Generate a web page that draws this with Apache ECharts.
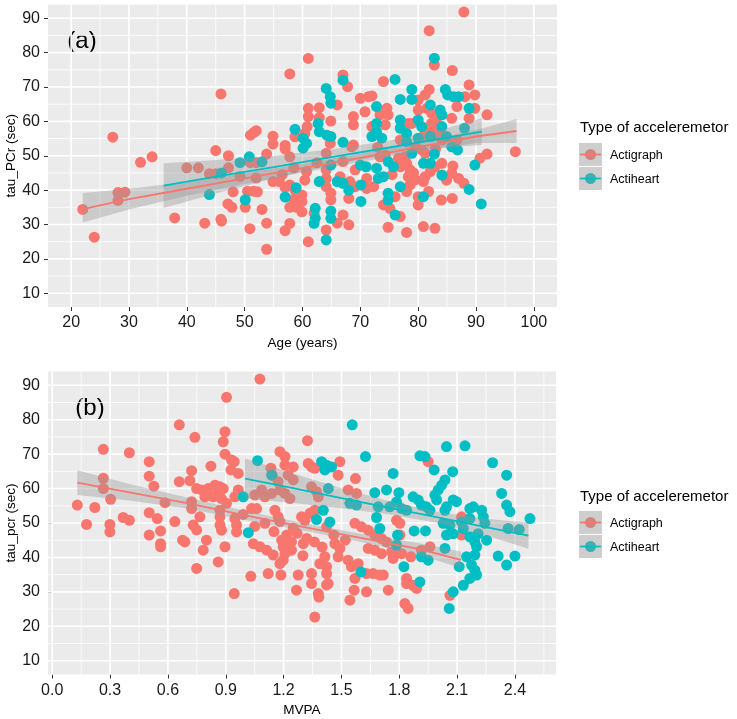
<!DOCTYPE html>
<html><head><meta charset="utf-8">
<script src="https://cdn.jsdelivr.net/npm/echarts@6/dist/echarts.min.js"></script>
<style>html,body{margin:0;padding:0;background:#fff}#c{width:737px;height:719px}</style>
</head><body><div id="c"></div>
<script>
// ---------- DATA ----------
const groupNames = ['Actigraph', 'Actiheart'];
const colRed = '#F8766D', colCyan = '#00BFC4';

// Panel (a): Age vs tau_PCr
const ageActigraph = [[22,34.4],[24,26.3],[27.2,55.4],[28.1,39.3],[28.1,37],[29.3,39.4],[32,48.1],[34,49.7],[37.9,31.9],[40,46.5],[42,46.5],[43.1,30.4],[43.9,44.8],[45,44.8],[45,51.5],[45.9,68],[45.9,31.5],[46,31],[47.2,50],[47.2,46.5],[47.1,36],[47.8,35],[48,39.5],[49.2,44],[50.1,35],[50.5,39.7],[51.5,39.7],[52.2,39.5],[50.9,28.8],[51,48],[51,56],[51.6,56.8],[52,57.3],[52,43.5],[52,48],[53,34.4],[53.8,50.5],[53.8,22.8],[53.8,30.4],[54.9,55.7],[54.9,53.4],[54.9,42.5],[56,42.5],[57,53],[57,52],[57,28.2],[57.8,30.3],[57.8,73.8],[57,40.8],[57.8,49.7],[58.7,55.5],[57.8,35],[59,35],[58.5,37.3],[57.8,41.5],[58.7,40],[59.9,33.7],[59.9,38.6],[59.9,36.7],
[61,78.3],[67,73.5],[67.8,70.1],[66,64.8],[70,66.7],[71.4,67.2],[70.8,62.8],[61,63.8],[61,61.4],[62.9,64],[62.9,61.1],[64.9,60.1],[68.8,61.4],[68.8,59],[60.8,58.5],[60.4,56.5],[64.8,53.6],[68.8,53.1],[61,25],[60.7,45.4],[60.4,42.9],[64.1,50.7],[64.1,45.9],[64.1,43.4],[64.1,41],[64.9,39.1],[64.9,37.2],[62,33.3],[64.1,28.4],[66,30.4],[67,32.8],[68,29.9],[66.5,43.9],[68.2,42.5],[69.1,41],[68,37.6],[71.1,43.4],[71.1,40.5],[69.1,45.9],[67,48.3],[68.5,52.6],
[87.9,91.8],[81.9,86.4],[82.8,76.4],[85.9,74.8],[74,71.6],[72,67.4],[81.9,69.3],[81.2,67.7],[80,66.2],[88.8,70.6],[89.8,67.7],[88.1,67.2],[86.7,64.3],[89.8,63.8],[91.9,61.9],[88.8,60.9],[80,63.3],[81.5,63.8],[82.3,62.4],[83.2,60.9],[82.3,59.4],[81.8,57.5],[80.9,55.6],[85.8,60.9],[78.3,59.4],[78.9,59.4],[74.6,63.8],[73.4,61.9],[74.8,61.9],[74.3,59],[72,58.5],[76.9,54.6],[84.1,54.6],[86.7,54.6],[79.5,52.6],[80.6,51.7],[81.2,50.7],[77.7,49.7],[76.6,49.3],[74.3,50.2],[73.4,49.7],[76.9,46.8],[78,47.8],[78.6,45.9],[78.3,43.9],[78.6,41.5],[78,39.6],[84.1,47.8],[82.9,46.8],[82.1,45.4],[81.2,43.9],[80.9,42.5],[84.9,42.9],[85.8,44.9],[87,43.4],[87.9,42],[90.7,49.3],[91.9,50.5],[72.3,41],[76,38.1],[74,35.7],[75.1,34.7],[76.9,32.3],[74.8,29.2],[78,27.7],[80.9,29.4],[82.9,28.9],[80,38.1],[80,35.7],[81.8,39.6],[84,37.1],[85.9,37.6],[96.8,51.2],
[82.5,58.5],[83.5,57.2],[82.8,56],[79.2,45],[79.5,43],[86,47],[83,52],[62.5,48],[58.5,46.5],[56.5,44.5],[75.5,44.5],[73,52.5]];
const ageActiheart = [[43.9,38.7],[46,45],[49.2,48],[50.1,37.2],[50.8,49.7],[53,48.2],[57,38],[58.7,57.7],[58.9,40.7],
[67,72],[64.1,69.6],[64.8,67.2],[64.9,65.3],[62.7,59.4],[62.9,57],[64.2,56],[64.9,55.6],[60.1,55.1],[60.7,53.6],[60.1,52.2],[67,53.9],[70,47.3],[71,46.8],[62.9,42.5],[64.9,47.3],[62.2,34.7],[62.2,31.8],[62,30.3],[64.1,25.5],[64.9,33.9],[64.9,31.8],[66,42.5],[67,42],[68,40],[70.1,36.7],[70.1,41.5],
[82.8,78.4],[76,72.2],[78.9,69.3],[76.9,66.4],[78.9,66.4],[84.7,69.3],[85.1,67.7],[86.1,67.2],[87,67.2],[88.8,63.8],[83.8,63.3],[84.1,61.9],[82.1,64.8],[84.1,58.5],[80,60.4],[80.6,58.5],[76.9,60.4],[76.9,58],[72.8,64.3],[72.8,59.4],[72.8,57],[72,55.6],[73.7,55.1],[78,56.5],[78,54.1],[80,55.1],[82.1,55.6],[84.9,55.6],[88,58],[86.8,51.7],[85.8,52.6],[78.9,50.7],[74.8,48.3],[75.7,46.8],[72.8,46.4],[73.1,43.4],[74,43.9],[76.9,41],[80.9,47.8],[82.1,47.8],[82.8,50.5],[84.1,44.4],[88.8,40.2],[89.8,47.3],[90.9,36],[74.8,39.1],[74.8,37.1],[76,32.8],[80.9,38.1]];

// smooth fits panel (a)
const ageFitRedX  = [22,30,40,50,60,70,80,90,97];
const ageFitRedY  = [34.5,37.4,40.4,43.4,46.4,49.4,52.5,55.6,57.2];
const ageFitRedLo = [30.6,34.4,38.4,41.8,45.1,48.2,51.2,53.7,53.7];
const ageFitRedHi = [39.2,40.4,42.4,45.0,47.7,50.6,53.8,57.5,60.7];
const ageFitCyX   = [36,45,55,65,75,85,91];
const ageFitCyY   = [41.3,43.9,46.7,49.6,52.4,55.3,57.0];
const ageFitCyLo  = [34.8,39.0,43.4,47.3,50.4,52.5,53.1];
const ageFitCyHi  = [47.8,48.8,50.0,51.9,54.4,58.1,60.9];

// Panel (b): MVPA vs tau_pcr
const mvpaActigraph = [[0.659,78.5],[0.74,74.9],[0.265,71.4],[0.4,70.4],[0.503,67.8],[0.503,63.6],[0.527,60.7],[0.265,63],[0.265,60],[0.303,56.9],[0.723,65.2],[0.659,62],[0.714,62.3],[0.749,60],[0.13,55.2],[0.221,54.5],[0.178,49.6],[0.299,49.6],[0.299,47.4],[0.368,51.6],[0.4,50.8],[0.503,53],[0.545,51.3],[0.562,47.7],[0.503,46.5],[0.562,44],[0.562,43.1],[0.636,50.4],[0.676,45],[0.688,44.5],[0.585,55.9],[0.723,56.2],[0.723,54.2],[0.749,36.8],[0.731,49.4],[0.749,48],
[0.904,86.5],[0.896,76.5],[0.887,73.6],[0.896,70],[0.93,68.3],[0.944,67.8],[0.823,66.5],[0.927,65.4],[0.965,64.4],[1.181,70.7],[1.207,69.3],[1.324,73.9],[1.134,65.9],[1.141,63.9],[1.25,66.3],[1.207,66.8],[1.328,67.3],[1.345,66.3],[1.362,65.9],[1.224,63.9],[1.25,62.5],[1.051,58.1],[1.086,59.6],[1.103,57.6],[1.138,58.6],[1.181,59.6],[1.207,58.6],[1.172,62],[0.965,59.6],[0.947,57.6],[1.233,57.1],[1.345,60.5],[1.371,59.1],[1.38,57.6],[0.775,59.6],[0.809,60],[0.844,61],[0.87,60.5],[0.887,60],[0.792,57.6],[0.835,57.6],[0.861,58.6],[0.878,57.1],[0.904,55.7],[0.87,53.7],[0.87,51.8],[0.87,49.4],[0.878,47.9],[0.947,51.3],[0.956,49.4],[0.956,47.4],[0.766,51.8],[0.8,45],[0.783,42.1],[0.861,38.7],[0.896,43.1],[0.944,29.5],[1.034,54.2],[1.06,54.2],[1.103,49.9],[1.155,53.7],[1.172,51.8],[1.181,50.4],[1.216,46.5],[1.19,45],[1.198,43.1],[1.207,41.1],[1.198,39.2],[1.241,44.5],[1.241,42.1],[1.043,44],[1.077,43.1],[1.112,42.1],[1.146,40.7],[1.181,38.2],[1.12,35.3],[1.03,34.5],[1.186,34.9],[1.276,34.9],[1.267,30.5],[1.302,44],[1.311,50.8],[1.293,51.8],[1.337,52.8],[1.362,53.7],[1.345,35.3],[1.345,32.4],[1.38,29.5],[1.383,28.5],[1.362,22.7],[1.388,38.2],[1.423,37.3],[1.423,35.3],[1.423,32],[1.077,91.8],
[1.492,67.8],[1.483,63.9],[1.573,62.9],[1.535,59.6],[1.578,58.6],[1.786,50.8],[1.803,49.9],[1.803,46.5],[1.57,49.9],[1.604,48.9],[1.639,47.9],[1.673,46.5],[1.708,45.5],[1.734,44.5],[1.423,48.9],[1.466,44],[1.492,42.6],[1.483,40.2],[1.535,39.2],[1.552,37.3],[1.587,38.2],[1.639,42.6],[1.673,42.1],[1.708,41.1],[1.76,41.6],[1.768,39.7],[1.812,41.1],[1.86,40.2],[1.915,42.1],[1.63,35.3],[1.665,35.3],[1.699,34.9],[1.717,34.9],[1.57,33.9],[1.566,30.5],[1.63,30],[1.544,27.6],[1.431,32.4],[1.414,40.2],[1.838,33.9],[1.872,31.9],[1.89,31],[1.838,32.4],[1.829,26.6],[1.846,25.2],[1.95,67.8],[1.743,30.5],
[2.123,51.8],[2.123,46.5],[1.959,43.1],[2.063,29],
[1.25,48.5],[1.27,47],[1.32,45.5],[1.36,44.5],[1.4,43],[1.15,47.5],[1.05,49],[0.99,52.5],[1.3,40.5],[1.46,46.5],[1.52,45]];
const mvpaActiheart = [[1.065,68.1],[1.138,63.9],[1.397,67.8],[1.423,66.8],[1.414,65.4],[1.432,60],[0.991,57.6],[1.017,47.2],[1.371,51],[1.406,53.7],
[1.556,78.5],[1.625,69.3],[1.907,69.5],[1.933,69.3],[1.981,65.4],[1.449,66.3],[1.768,64.4],[1.673,58.8],[1.734,59.6],[1.798,58.8],[1.872,57.6],[1.898,56.7],[1.915,55.2],[1.941,54.7],[1.959,53.7],[1.544,55.7],[1.578,55.2],[1.786,56.1],[1.812,54.2],[1.838,53.7],[1.751,54.7],[1.691,54.7],[1.682,51.6],[1.44,50.3],[1.699,48.4],[1.877,47.7],[1.936,47.7],[1.791,46.5],[1.786,43.6],[1.915,40.2],[1.95,39.2],[1.824,37.3],[1.907,32.9],[1.601,35.8],
[2.045,72.2],[2.141,72.4],[2.284,67.5],[2.357,63.9],[2.077,64.9],[2.037,62.5],[2.02,61],[2.002,59.6],[1.985,58.1],[1.994,56.7],[2.331,58.6],[2.357,55.2],[2.374,53.3],[2.478,51.3],[2.08,56.7],[2.097,56.2],[2.045,54.7],[2.037,53.7],[2.166,54.2],[2.184,54.7],[2.227,53.7],[2.236,51.8],[2.244,49.9],[2.166,51.3],[2.123,50.3],[2.028,49.9],[2.063,49.4],[2.132,48.4],[2.365,48.4],[2.422,48.1],[2.045,46.5],[2.08,46.9],[2.166,46],[2.209,46.9],[2.192,44.5],[2.201,43.1],[2.192,40.7],[2.253,45],[2.037,42.6],[2.313,40.4],[2.4,40.4],[2.357,37.8],[2.111,37.3],[2.149,40.2],[2.175,37.8],[2.192,36.3],[2.201,34.9],[2.166,33.9],[2.132,31.9],[2.08,30],[2.059,25.2]];

const mvpaFitRedX  = [0.13,0.4,0.7,1.0,1.3,1.6,1.9,2.12];
const mvpaFitRedY  = [61.7,58.9,55.8,52.2,48.9,45.7,42.5,39.3];
const mvpaFitRedLo = [58.1,56.5,54.2,50.9,47.8,44.5,40.8,36.9];
const mvpaFitRedHi = [65.3,61.3,57.4,53.5,50.0,46.9,44.2,41.7];
const mvpaFitCyX   = [1.0,1.25,1.5,1.75,2.0,2.25,2.47];
const mvpaFitCyY   = [62.9,60.1,57.2,54.4,51.6,48.8,46.3];
const mvpaFitCyLo  = [57.1,55.8,54.3,52.5,50.0,46.4,42.5];
const mvpaFitCyHi  = [68.7,64.4,60.1,56.3,53.2,51.2,50.1];

// ticks
const ageTicks = [20,30,40,50,60,70,80,90,100];
const ageMinor = [25,35,45,55,65,75,85,95];
const mvpaTicks = [0,0.3,0.6,0.9,1.2,1.5,1.8,2.1,2.4];
const mvpaMinor = [0.15,0.45,0.75,1.05,1.35,1.65,1.95,2.25,2.55];
const yTicks = [10,20,30,40,50,60,70,80,90];
const yMinor = [15,25,35,45,55,65,75,85];

// ---------- CHART ----------
const FAMILY = 'Liberation Sans';
const chart = echarts.init(document.getElementById('c'), null, {renderer:'canvas'});
const zip = (xs, ys) => xs.map((x,i)=>[x, ys[i]]);

function gridLineSeries(idx, xMajor, xMinor, yMin, xMin) {
  const data = [];
  xMinor.forEach(v=>data.push([v,0,0]));
  yMinor.forEach(v=>data.push([v,1,0]));
  xMajor.forEach(v=>data.push([v,0,1]));
  yTicks.forEach(v=>data.push([v,1,1]));
  return {type:'custom', xAxisIndex:idx, yAxisIndex:idx, z:1, silent:true, animation:false, data,
    encode:{x:-1,y:-1},
    renderItem:(params, api)=>{
      const v=api.value(0), o=api.value(1), m=api.value(2), cs=params.coordSys;
      let shape;
      if (o===0){ const p=api.coord([v,yMin]); shape={x1:p[0],y1:cs.y,x2:p[0],y2:cs.y+cs.height}; }
      else { const p=api.coord([xMin,v]); shape={x1:cs.x,y1:p[1],x2:cs.x+cs.width,y2:p[1]}; }
      return {type:'line', shape, style:{stroke:'#ffffff', lineWidth: m?1.6:0.8}};
    }};
}
function bandSeries(idx, xs, lo, hi) {
  return {type:'custom', xAxisIndex:idx, yAxisIndex:idx, z:3, silent:true, animation:false,
    data:[[xs[0], lo[0]]],
    renderItem:(params, api)=>{
      const pts=[];
      for (let i=0;i<xs.length;i++) pts.push(api.coord([xs[i],hi[i]]));
      for (let i=xs.length-1;i>=0;i--) pts.push(api.coord([xs[i],lo[i]]));
      return {type:'polygon', shape:{points:pts}, style:{fill:'rgba(153,153,153,0.4)'}};
    }};
}
function scatter(idx, name, data, color){
  return {type:'scatter', name, xAxisIndex:idx, yAxisIndex:idx, data, symbolSize:11, z:2, silent:true, animation:false,
    itemStyle:{color, opacity:1}};
}
function fitLine(idx, xs, ys, color){
  return {type:'line', xAxisIndex:idx, yAxisIndex:idx, data:zip(xs,ys), showSymbol:false, z:4, silent:true, animation:false,
    lineStyle:{color, width:1.8}};
}
function labelStyle(ticks, fmt){
  const o = {customValues:ticks, color:'#1a1a1a', fontSize:16, fontFamily:FAMILY, margin:8};
  if (fmt) o.formatter = fmt;
  return o;
}
function xAxis(idx, min, max, ticks, name, fmt){
  return {type:'value', gridIndex:idx, min, max, name, nameLocation:'middle', nameGap:29, nameMoveOverlap:false,
    nameTextStyle:{color:'#000', fontSize:13.5, fontFamily:FAMILY},
    axisLine:{show:false}, splitLine:{show:false},
    axisTick:{show:true, length:4, lineStyle:{color:'#333', width:1}, customValues:ticks},
    axisLabel:labelStyle(ticks, fmt)};
}
function yAxis(idx, name){
  return {type:'value', gridIndex:idx, min:6, max:94, name, nameLocation:'middle', nameGap:30, nameMoveOverlap:false,
    nameTextStyle:{color:'#000', fontSize:13.5, fontFamily:FAMILY},
    axisLine:{show:false}, splitLine:{show:false},
    axisTick:{show:true, length:4, lineStyle:{color:'#333', width:1}, customValues:yTicks},
    axisLabel:labelStyle(yTicks)};
}
function legendGraphics(top, cy){
  const els = [];
  els.push({type:'text', left:580, top:top, style:{text:'Type of acceleremetor', fontSize:15, fontFamily:FAMILY, fill:'#000'}});
  [[colRed,'Actigraph'],[colCyan,'Actiheart']].forEach((g,i)=>{
    const y0 = cy + i*24;
    els.push({type:'rect', shape:{x:579,y:y0,width:23,height:23}, style:{fill:'#F2F2F2'}});
    els.push({type:'circle', shape:{cx:590.5,cy:y0+11.5,r:5.5}, style:{fill:g[0]}});
    els.push({type:'rect', shape:{x:579,y:y0,width:23,height:23}, style:{fill:'rgba(153,153,153,0.4)'}});
    els.push({type:'line', shape:{x1:580,y1:y0+11.5,x2:601,y2:y0+11.5}, style:{stroke:g[0], lineWidth:1.8}});
    els.push({type:'text', x:610, y:y0+12.5, style:{text:g[1], fontSize:12.5, fontFamily:FAMILY, fill:'#000', verticalAlign:'middle'}});
  });
  return els;
}

const gridCommon = {show:true, backgroundColor:'#EBEBEB', borderWidth:0, containLabel:false, outerBoundsMode:'none'};
chart.setOption({
  backgroundColor:'#ffffff',
  animation:false,
  grid:[
    Object.assign({left:48, top:4.5, width:509, height:302.5}, gridCommon),
    Object.assign({left:48, top:371.5, width:508, height:303}, gridCommon)
  ],
  xAxis:[
    xAxis(0, 16, 104, ageTicks, 'Age (years)', v=>String(v)),
    xAxis(1, -0.022, 2.613, mvpaTicks, 'MVPA', v=>v.toFixed(1))
  ],
  yAxis:[ yAxis(0,'tau_PCr (sec)'), yAxis(1,'tau_pcr (sec)') ],
  series:[
    gridLineSeries(0, ageTicks, ageMinor, 6, 16),
    gridLineSeries(1, mvpaTicks, mvpaMinor, 6, -0.022),
    scatter(0, groupNames[0], ageActigraph, colRed),
    scatter(0, groupNames[1], ageActiheart, colCyan),
    scatter(1, groupNames[0], mvpaActigraph, colRed),
    scatter(1, groupNames[1], mvpaActiheart, colCyan),
    bandSeries(0, ageFitRedX, ageFitRedLo, ageFitRedHi),
    bandSeries(0, ageFitCyX, ageFitCyLo, ageFitCyHi),
    bandSeries(1, mvpaFitRedX, mvpaFitRedLo, mvpaFitRedHi),
    bandSeries(1, mvpaFitCyX, mvpaFitCyLo, mvpaFitCyHi),
    fitLine(0, ageFitRedX, ageFitRedY, colRed),
    fitLine(0, ageFitCyX, ageFitCyY, colCyan),
    fitLine(1, mvpaFitRedX, mvpaFitRedY, colRed),
    fitLine(1, mvpaFitCyX, mvpaFitCyY, colCyan)
  ],
  graphic:[
    {type:'text', x:82, y:41, style:{text:'(a)', fontSize:24, fontFamily:FAMILY, fontWeight:'normal', fill:'#000', align:'center', verticalAlign:'middle'}},
    {type:'text', x:90, y:408, style:{text:'(b)', fontSize:24, fontFamily:FAMILY, fontWeight:'normal', fill:'#000', align:'center', verticalAlign:'middle'}}
  ].concat(legendGraphics(120, 143)).concat(legendGraphics(489, 511))
});
</script></body></html>
